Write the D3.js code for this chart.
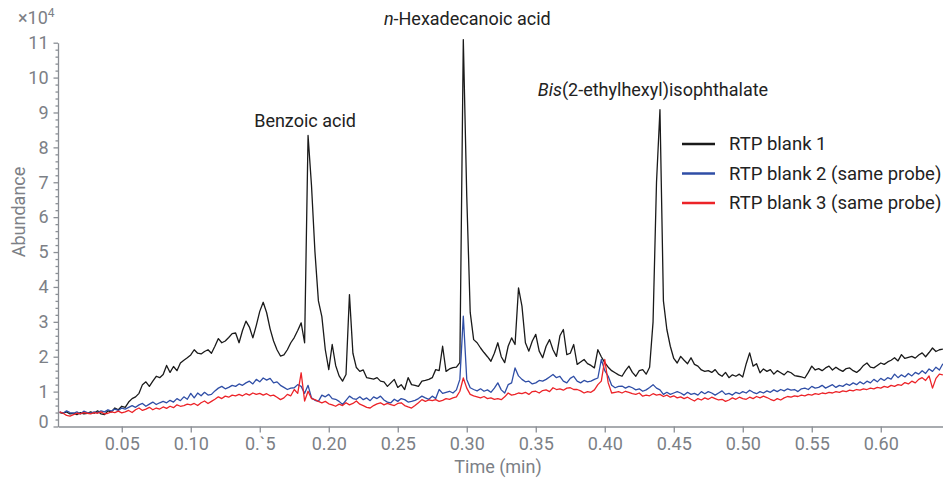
<!DOCTYPE html>
<html>
<head>
<meta charset="utf-8">
<script src="https://cdn.jsdelivr.net/npm/d3@7"></script>
<style>
  body { margin: 0; background: #fff; }
  svg { display: block; font-family: Roboto, "Noto Sans", sans-serif; }
</style>
</head>
<body>
<div id="chart"></div>
<script>
// Sampling grid of the chromatogram (min)
const startTime = 0.005;
const timeStep = 0.0025;

// Abundance in units of 10^4, one value per sample
const blank1 = [
  0.40,0.38,0.42,0.36,0.38,0.34,0.40,0.36,0.38,0.42,
  0.38,0.45,0.36,0.34,0.45,0.42,0.53,0.48,0.58,0.55,
  0.70,0.80,0.85,0.95,1.20,1.28,1.15,1.30,1.44,1.40,
  1.49,1.75,1.55,1.72,1.60,1.82,1.90,1.97,2.05,2.20,
  2.10,2.08,2.15,2.20,2.10,2.30,2.52,2.40,2.45,2.55,
  2.66,2.68,2.40,2.75,3.02,2.85,2.54,2.90,3.30,3.56,
  3.26,2.80,2.45,2.20,2.02,2.05,2.20,2.40,2.55,2.75,
  2.97,2.40,8.34,6.90,5.00,3.60,3.15,2.20,1.63,2.35,
  1.75,1.45,1.30,1.49,3.78,2.10,1.69,1.58,1.62,1.40,
  1.38,1.36,1.40,1.30,1.28,1.15,1.25,1.35,1.12,1.20,
  1.06,1.40,1.20,1.18,1.15,1.30,1.32,1.35,1.40,1.63,
  1.60,2.30,1.58,1.65,1.69,1.70,1.83,11.09,6.60,3.27,
  2.49,2.40,2.25,2.12,2.00,1.87,2.10,2.40,2.00,1.83,
  2.30,2.54,2.35,3.97,3.45,2.40,2.16,2.45,2.64,2.16,
  1.97,2.30,2.49,2.20,2.01,2.60,2.78,2.06,2.10,2.35,
  1.78,1.85,1.92,1.80,1.75,1.68,2.20,2.00,1.83,1.70,
  1.60,1.54,1.48,1.44,1.60,1.73,1.55,1.44,1.60,1.63,
  1.50,1.70,3.00,7.00,9.08,3.60,2.78,2.30,1.95,1.82,
  2.01,1.90,1.80,1.97,1.78,1.73,1.62,1.58,1.60,1.55,
  1.63,1.50,1.44,1.55,1.40,1.48,1.44,1.50,1.42,1.80,
  2.11,1.73,1.80,1.54,1.65,1.58,1.63,1.50,1.60,1.54,
  1.48,1.58,1.54,1.46,1.44,1.42,1.39,1.55,1.73,1.62,
  1.66,1.60,1.68,1.73,1.62,1.70,1.63,1.58,1.66,1.68,
  1.60,1.55,1.63,1.75,1.82,1.70,1.68,1.75,1.82,1.78,
  1.85,1.90,1.97,1.88,2.06,1.95,1.98,2.01,1.96,2.05,
  2.11,2.00,2.12,2.25,2.15,2.20,2.22
];

const blank2 = [
  0.42,0.38,0.45,0.40,0.38,0.42,0.36,0.44,0.40,0.38,
  0.42,0.40,0.45,0.42,0.48,0.44,0.50,0.46,0.53,0.50,
  0.55,0.60,0.55,0.62,0.66,0.58,0.64,0.70,0.63,0.68,
  0.72,0.68,0.75,0.70,0.80,0.74,0.85,0.78,0.95,0.82,
  0.96,0.88,0.98,0.90,0.92,1.02,1.10,1.15,1.08,1.12,
  1.18,1.15,1.22,1.18,1.25,1.30,1.22,1.35,1.28,1.39,
  1.33,1.38,1.25,1.28,1.18,1.12,1.06,1.10,1.11,1.20,
  1.15,0.95,1.18,0.82,0.75,0.72,0.90,0.85,0.92,0.80,
  0.78,0.72,0.63,0.75,0.87,0.80,0.78,0.85,0.77,0.82,
  0.74,0.85,0.80,0.87,0.76,0.70,0.68,0.78,0.72,0.80,
  0.77,0.70,0.72,0.75,0.80,0.87,0.82,0.78,0.87,0.80,
  1.06,0.95,0.98,1.01,0.96,1.05,1.35,3.16,1.35,1.11,
  1.06,1.02,1.08,1.01,1.05,0.98,1.10,1.25,1.05,0.96,
  1.20,1.25,1.68,1.45,1.35,1.28,1.30,1.22,1.25,1.32,
  1.30,1.35,1.42,1.49,1.40,1.44,1.30,1.25,1.38,1.44,
  1.30,1.25,1.32,1.28,1.30,1.35,1.39,1.92,1.60,1.44,
  1.18,1.11,1.15,1.16,1.10,1.15,1.11,1.05,1.08,1.01,
  1.05,1.12,1.20,1.10,1.05,0.92,0.98,0.92,0.96,1.00,
  0.96,0.90,0.98,0.92,0.95,0.90,1.00,0.94,1.00,0.96,
  0.90,0.96,1.02,0.92,0.95,0.90,0.98,0.94,1.00,0.96,
  1.04,0.98,0.94,1.00,0.96,1.02,0.98,1.05,1.00,1.06,
  1.02,1.08,1.04,1.06,1.00,1.08,1.10,1.06,1.15,1.10,
  1.12,1.18,1.10,1.15,1.20,1.12,1.18,1.15,1.22,1.18,
  1.25,1.20,1.28,1.22,1.30,1.25,1.35,1.28,1.38,1.32,
  1.40,1.36,1.50,1.40,1.48,1.42,1.52,1.45,1.55,1.50,
  1.60,1.52,1.65,1.58,1.70,1.62,1.80
];

const blank3 = [
  0.42,0.38,0.32,0.30,0.34,0.38,0.36,0.40,0.38,0.36,
  0.40,0.38,0.42,0.36,0.38,0.42,0.40,0.44,0.39,0.42,
  0.46,0.40,0.48,0.53,0.46,0.50,0.55,0.48,0.53,0.50,
  0.56,0.52,0.58,0.54,0.62,0.58,0.60,0.64,0.62,0.66,
  0.60,0.68,0.73,0.66,0.72,0.78,0.85,0.80,0.87,0.84,
  0.90,0.88,0.92,0.88,0.94,0.90,0.96,0.92,0.95,0.90,
  0.94,0.88,0.90,0.84,0.77,0.82,0.92,0.88,1.06,0.95,
  1.54,0.73,1.01,0.80,0.77,0.72,0.68,0.72,0.65,0.62,
  0.58,0.64,0.60,0.68,0.62,0.66,0.73,0.64,0.60,0.55,
  0.53,0.60,0.65,0.68,0.62,0.66,0.63,0.60,0.66,0.68,
  0.60,0.56,0.53,0.60,0.68,0.77,0.72,0.76,0.74,0.77,
  0.72,0.75,0.80,0.78,0.82,0.85,1.01,1.39,1.10,0.92,
  0.88,0.85,0.82,0.86,0.80,0.82,0.78,0.80,0.77,0.85,
  0.96,0.90,0.92,0.96,0.94,0.98,0.92,1.00,1.01,0.96,
  1.03,1.05,1.00,1.11,1.06,1.08,1.04,1.10,1.11,1.06,
  1.06,1.02,0.96,1.00,0.98,1.05,1.20,1.30,1.92,1.25,
  0.96,0.98,1.00,0.96,1.01,0.98,0.94,0.92,0.96,0.87,
  0.90,0.88,0.94,0.90,0.92,0.86,0.90,0.84,0.88,0.82,
  0.85,0.80,0.84,0.78,0.73,0.80,0.76,0.82,0.78,0.84,
  0.80,0.76,0.78,0.72,0.76,0.82,0.78,0.84,0.80,0.78,
  0.84,0.80,0.86,0.82,0.87,0.83,0.78,0.74,0.80,0.76,
  0.82,0.86,0.84,0.88,0.86,0.90,0.88,0.92,0.90,0.94,
  0.92,0.96,0.94,0.98,0.96,1.00,0.98,1.02,1.00,1.04,
  1.02,1.06,1.04,1.08,1.06,1.10,1.08,1.12,1.10,1.15,
  1.12,1.18,1.15,1.20,1.18,1.26,1.22,1.30,1.25,1.35,
  1.40,1.32,1.45,1.10,1.38,1.50,1.48
];

const seriesNames = ["RTP blank 1", "RTP blank 2 (same probe)", "RTP blank 3 (same probe)"];
const seriesColors = ["#1a1a1a", "#2f4ea6", "#ec2328"];

// Tick labels as printed in the figure
const xTicks = [0.05, 0.10, 0.15, 0.20, 0.25, 0.30, 0.35, 0.40, 0.45, 0.50, 0.55, 0.60];
const xTickLabels = ["0.05", "0.10", "0.`5", "0.20", "0.25", "0.30", "0.35", "0.40", "0.45", "0.50", "0.55", "0.60"];
const yTicks = [0, 1, 2, 3, 4, 5, 6, 7, 8, 9, 10, 11];

// Peak annotations
const peakNames = [
  { ital: "", post: "Benzoic acid", time: 0.185, value: 8.34 },
  { ital: "n", post: "-Hexadecanoic acid", time: 0.2975, value: 11.09 },
  { ital: "Bis", post: "(2-ethylhexyl)isophthalate", time: 0.44, value: 9.08 }
];

const W = 943, H = 483;
const margin = { top: 42.7, right: 0, bottom: 56.5, left: 58 };
const width = W - margin.left - margin.right;
const height = H - margin.top - margin.bottom;

const axisColor = "#8b8f95";
const labelColor = "#7c8086";

const svg = d3.select("#chart").append("svg")
  .attr("width", W)
  .attr("height", H);

const g = svg.append("g")
  .attr("transform", `translate(${margin.left},${margin.top})`);

const xScale = d3.scaleLinear().domain([0.0038, 0.6451]).range([0, width]);
const yScale = d3.scaleLinear().domain([0, 11]).range([height, 0]);

// x axis
const xAxis = g.append("g")
  .attr("transform", `translate(0,${height})`)
  .call(d3.axisBottom(xScale)
    .tickValues(xTicks)
    .tickFormat((d, i) => xTickLabels[i])
    .tickSize(6)
    .tickSizeOuter(0)
    .tickPadding(5));

// y axis minor ticks
const minor = d3.range(0, 55).map(i => i * 0.2).filter(v => Math.abs(v - Math.round(v)) > 0.01);
const yMinor = g.append("g")
  .call(d3.axisLeft(yScale).tickValues(minor).tickSize(2.5).tickFormat(""));
yMinor.select(".domain").remove();

// y axis
const yAxis = g.append("g")
  .call(d3.axisLeft(yScale)
    .tickValues(yTicks)
    .tickSize(4.5)
    .tickSizeOuter(0)
    .tickPadding(5));

[xAxis, yAxis, yMinor].forEach(ax => {
  ax.selectAll("path, line").attr("stroke", axisColor).attr("stroke-width", 1.3);
  ax.selectAll("text")
    .attr("fill", labelColor)
    .style("font-size", "18px")
    .style("font-family", "Roboto, sans-serif");
});
// the zero label sits a little above its tick in the figure
yAxis.selectAll(".tick").filter(d => d === 0).select("text").attr("dy", "0.05em");

// axis titles
g.append("text")
  .attr("x", 440)
  .attr("y", height + 47)
  .attr("text-anchor", "middle")
  .attr("fill", labelColor)
  .style("font-size", "18px")
  .text("Time (min)");

g.append("text")
  .attr("transform", "rotate(-90)")
  .attr("x", -(212 - margin.top))
  .attr("y", -margin.left + 25)
  .attr("text-anchor", "middle")
  .attr("fill", labelColor)
  .style("font-size", "18px")
  .text("Abundance");

// x10^4 exponent
const expo = svg.append("text")
  .attr("x", 18)
  .attr("y", 24)
  .attr("fill", labelColor)
  .style("font-size", "18px");
expo.append("tspan").text("×10");
expo.append("tspan").attr("dy", -7).style("font-size", "12px").text("4");

// lines
const allSeries = [blank1, blank2, blank3];
const line = d3.line()
  .x((d, i) => xScale(startTime + i * timeStep))
  .y(d => yScale(d));

allSeries.forEach((s, k) => {
  g.append("path")
    .datum(s)
    .attr("fill", "none")
    .attr("stroke", seriesColors[k])
    .attr("stroke-width", 1.3)
    .attr("stroke-linejoin", "round")
    .attr("d", line);
});

// peak labels
const labelDx = [-3, 4, -7];
const labelDy = [8, 15, 14];
peakNames.forEach((p, k) => {
  const t = g.append("text")
    .attr("x", xScale(p.time) + labelDx[k])
    .attr("y", yScale(p.value) - labelDy[k])
    .attr("text-anchor", "middle")
    .attr("fill", "#222")
    .style("font-size", "18px");
  if (p.ital) t.append("tspan").style("font-style", "italic").text(p.ital);
  t.append("tspan").text(p.post);
});

// legend
const legend = svg.selectAll(".legend")
  .data(seriesNames)
  .enter().append("g")
  .attr("class", "legend")
  .attr("transform", (d, i) => `translate(682, ${144 + i * 29.5})`);

legend.append("line")
  .attr("x1", 0)
  .attr("x2", 33)
  .attr("stroke", (d, i) => seriesColors[i])
  .attr("stroke-width", 2.5);

legend.append("text")
  .attr("x", 47)
  .attr("dy", "0.35em")
  .attr("fill", "#222")
  .style("font-size", "18.5px")
  .text(d => d);
</script>
</body>
</html>
